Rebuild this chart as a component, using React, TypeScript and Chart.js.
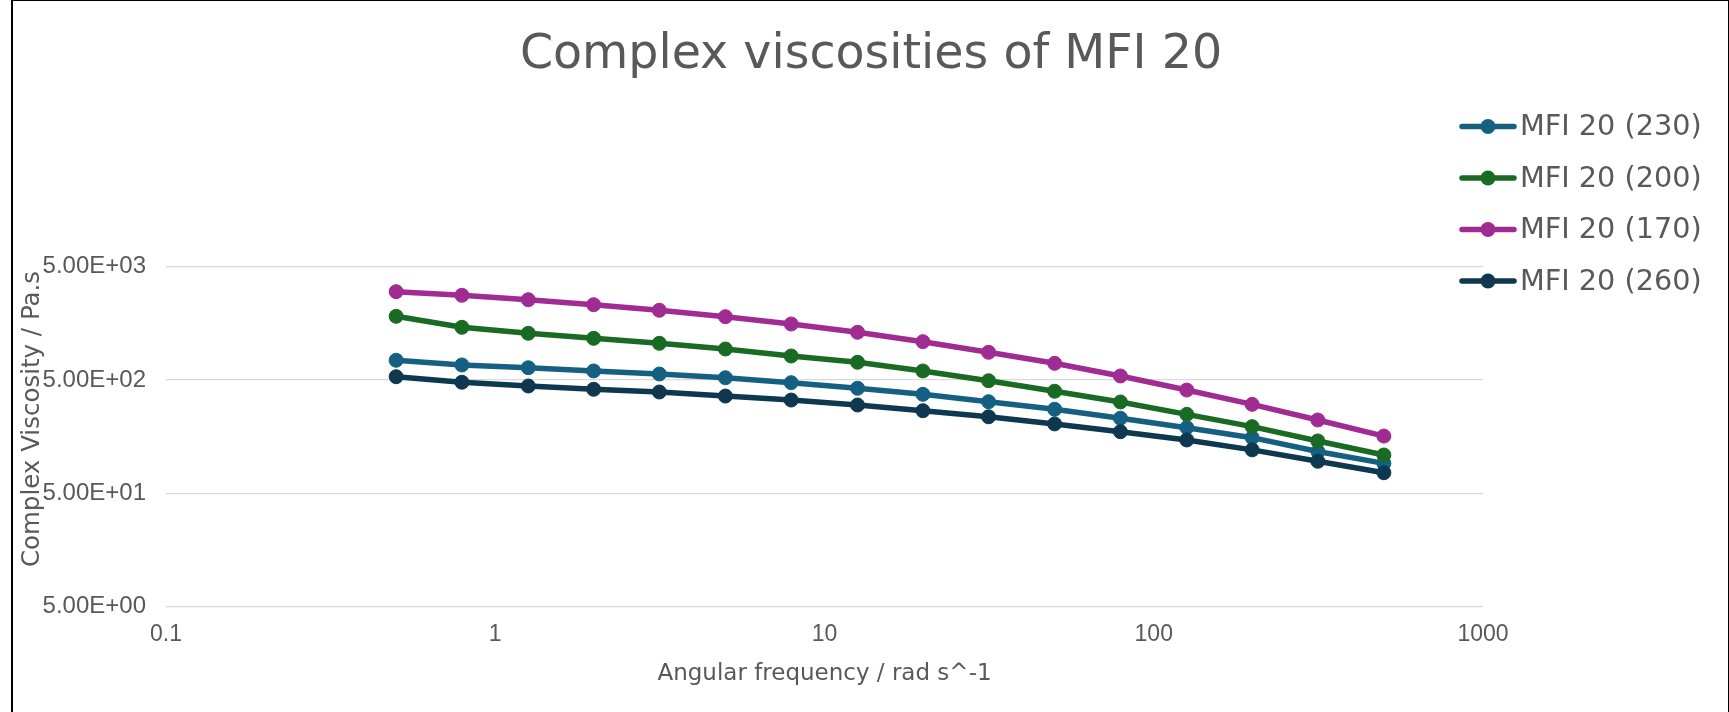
import React, { useEffect, useRef } from 'react';
import { Chart, registerables } from 'chart.js';

Chart.register(...registerables);

// ---- data ----
const frequencies = [0.5, 0.792, 1.26, 1.99, 3.15, 5, 7.92, 12.6, 19.9, 31.5, 50, 79.2, 126, 199, 315, 500];
const mfi230 = [747, 679, 642, 601, 565, 524, 474, 423, 374, 322, 276, 230, 190, 155, 117, 92];
const mfi200 = [1825, 1460, 1292, 1167, 1055, 939, 815, 717, 601, 493, 398, 320, 249, 194, 145, 109];
const mfi170 = [3009, 2797, 2557, 2311, 2063, 1810, 1561, 1319, 1090, 878, 702, 543, 408, 305, 222, 160];
const mfi260 = [535, 478, 443, 414, 392, 361, 333, 301, 268, 237, 205, 175, 148, 121, 96, 76];

const seriesLabels = ['MFI 20 (230)', 'MFI 20 (200)', 'MFI 20 (170)', 'MFI 20 (260)'];
const seriesValues = [mfi230, mfi200, mfi170, mfi260];
const seriesColors = ['#156082', '#196B24', '#A02B93', '#0D3850'];

const xTickValues = [0.1, 1, 10, 100, 1000];
const xTickLabels = ['0.1', '1', '10', '100', '1000'];
const yTickValues = [5, 50, 500, 5000];
const yTickLabels = ['5.00E+00', '5.00E+01', '5.00E+02', '5.00E+03'];

const chartTitle = 'Complex viscosities of MFI 20';
const xAxisTitle = 'Angular frequency / rad s^-1';
const yAxisTitle = 'Complex Viscosity / Pa.s';

const TEXT = '#595959';
const GRID = '#D9D9D9';
const TITLE_FONT = '"DejaVu Sans", sans-serif';
const TICK_FONT = '"Liberation Sans", Arial, sans-serif';

function labelFor(values: number[], labels: string[], v: number) {
  const i = values.findIndex((t) => Math.abs(t - v) / t < 1e-6);
  return i >= 0 ? labels[i] : '';
}

const decorPlugin = {
  id: 'decor',
  afterDraw(chart: any) {
    const ctx = chart.ctx as CanvasRenderingContext2D;
    const area = chart.chartArea;
    ctx.save();
    ctx.fillStyle = TEXT;
    // title
    ctx.font = `47.5px ${TITLE_FONT}`;
    ctx.textAlign = 'center';
    ctx.textBaseline = 'alphabetic';
    ctx.fillText(chartTitle, 871, 68);
    // x axis title
    ctx.font = `23px ${TITLE_FONT}`;
    ctx.fillText(xAxisTitle, (area.left + area.right) / 2, 680);
    // y axis title
    ctx.save();
    ctx.translate(39, 419);
    ctx.rotate(-Math.PI / 2);
    ctx.font = `24.5px ${TITLE_FONT}`;
    ctx.fillText(yAxisTitle, 0, 0);
    ctx.restore();
    // legend
    seriesLabels.forEach((lab, i) => {
      const y = 126.5 + i * 51.5;
      ctx.strokeStyle = seriesColors[i];
      ctx.lineWidth = 5.5;
      ctx.lineCap = 'round';
      ctx.beginPath();
      ctx.moveTo(1462, y);
      ctx.lineTo(1514, y);
      ctx.stroke();
      ctx.fillStyle = seriesColors[i];
      ctx.beginPath();
      ctx.arc(1488, y, 7.5, 0, Math.PI * 2);
      ctx.fill();
      ctx.fillStyle = TEXT;
      ctx.font = `28.7px ${TITLE_FONT}`;
      ctx.textAlign = 'left';
      ctx.fillText(lab, 1520, y + 8.5);
    });
    ctx.restore();
  },
};

export default function App() {
  const ref = useRef<HTMLCanvasElement | null>(null);

  useEffect(() => {
    if (!ref.current) return;
    const datasets = seriesLabels.map((label, i) => ({
      label,
      data: frequencies.map((f, k) => ({ x: f, y: seriesValues[i][k] })),
      borderColor: seriesColors[i],
      backgroundColor: seriesColors[i],
      pointBackgroundColor: seriesColors[i],
      pointBorderColor: seriesColors[i],
      borderWidth: 5.5,
      pointRadius: 7,
      pointBorderWidth: 1,
      tension: 0,
      order: seriesLabels.length - i,
    }));
    const chart = new Chart(ref.current, {
      type: 'line',
      data: { datasets },
      plugins: [decorPlugin],
      options: {
        animation: false,
        responsive: false,
        devicePixelRatio: 1,
        layout: { padding: { left: 0, right: 246, top: 266.7, bottom: 0 } },
        plugins: {
          legend: { display: false },
          title: { display: false },
          tooltip: { enabled: false },
        },
        scales: {
          x: {
            type: 'logarithmic',
            min: 0.1,
            max: 1000,
            grid: { display: false, drawTicks: false },
            border: { display: false },
            afterBuildTicks: (scale: any) => {
              scale.ticks = xTickValues.map((v) => ({ value: v }));
            },
            afterFit: (scale: any) => {
              scale.height = 712 - 606.7;
            },
            ticks: {
              autoSkip: false,
              maxRotation: 0,
              padding: 14,
              color: TEXT,
              font: { family: TICK_FONT, size: 23 },
              callback: (v: any) => labelFor(xTickValues, xTickLabels, Number(v)),
            },
          },
          y: {
            type: 'logarithmic',
            min: 5,
            max: 5000,
            grid: { color: GRID, lineWidth: 1.3, drawTicks: false },
            border: { display: false },
            afterBuildTicks: (scale: any) => {
              scale.ticks = yTickValues.map((v) => ({ value: v }));
            },
            afterFit: (scale: any) => {
              scale.width = 166;
            },
            ticks: {
              autoSkip: false,
              padding: 20,
              color: TEXT,
              font: { family: TICK_FONT, size: 24 },
              callback: (v: any) => labelFor(yTickValues, yTickLabels, Number(v)),
            },
          },
        },
      } as any,
    });
    return () => chart.destroy();
  }, []);

  return (
    <div style={{ position: 'absolute', left: 0, top: 0, width: 1729, height: 712, background: '#fff' }}>
      <canvas ref={ref} width={1729} height={712} style={{ display: 'block', width: 1729, height: 712 }} />
      <div
        style={{
          position: 'absolute',
          left: 11,
          top: 0,
          width: 1718,
          height: 712,
          boxSizing: 'border-box',
          borderLeft: '2px solid #000',
          borderTop: '1px solid #000',
          borderRight: '1px solid #000',
          pointerEvents: 'none',
        }}
      />
    </div>
  );
}
